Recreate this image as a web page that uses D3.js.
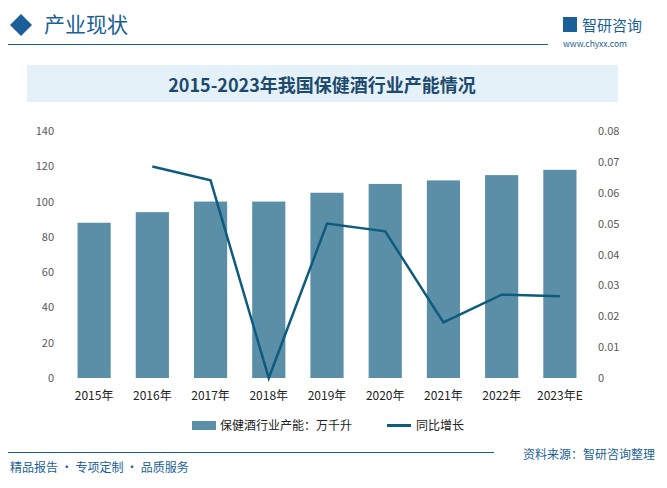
<!DOCTYPE html>
<html><head><meta charset="utf-8">
<script src="https://cdn.jsdelivr.net/npm/d3@7"></script>
<style>body{margin:0;background:#fff}text{font-family:"Noto Sans CJK SC","Noto Sans",sans-serif}</style>
</head><body><svg id="c" width="667" height="488"></svg>
<script>
const years = ['2015年','2016年','2017年','2018年','2019年','2020年','2021年','2022年','2023年E']
const capacity = [88, 94, 100, 100, 105, 110, 112, 115, 118]
const growth = [null, 0.0685, 0.064, 0, 0.05, 0.0475, 0.018, 0.027, 0.0265]
const leftTicks = [0,20,40,60,80,100,120,140]
const rightTicks = [0,0.01,0.02,0.03,0.04,0.05,0.06,0.07,0.08]

const svg = d3.select('#c')
// header
svg.append('path').attr('d','M10,25 L21,14 L32,25 L21,36 Z').attr('fill','#1a5f97')
svg.append('text').attr('x',44).attr('y',32).attr('font-size',21).attr('fill','#1a5f97').text('产业现状')
svg.append('line').attr('x1',8).attr('x2',548).attr('y1',44.5).attr('y2',44.5).attr('stroke','#1a5f97').attr('stroke-width',1)
svg.append('rect').attr('x',563).attr('y',17).attr('width',14).attr('height',15).attr('fill','#1a5f97')
svg.append('text').attr('x',582).attr('y',31).attr('font-size',15).attr('fill','#1a5f97').text('智研咨询')
svg.append('text').attr('x',563).attr('y',47).attr('font-size',8.5).attr('fill','#1a5f97').attr('font-family','DejaVu Sans Mono').text('www.chyxx.com')
// title box
svg.append('rect').attr('x',27).attr('y',65).attr('width',591).attr('height',37).attr('fill','#e5f1f9')
svg.append('text').attr('x',322).attr('y',92).attr('text-anchor','middle').attr('font-size',18).attr('font-weight','bold')
  .attr('fill','#1c4a6e').attr('font-family','"Noto Serif CJK SC","Noto Sans CJK SC",serif').text('2015-2023年我国保健酒行业产能情况')

const x = d3.scaleBand().domain(years).range([65,589]).paddingInner(0.43).paddingOuter(0.215)
const yL = d3.scaleLinear().domain([0,140]).range([378,131])
const yR = d3.scaleLinear().domain([0,0.08]).range([378,131])

svg.append('g').selectAll('text').data(leftTicks).join('text')
  .attr('x',54).attr('y',d=>yL(d)+4).attr('text-anchor','end').attr('font-size',11).attr('fill','#595959').text(d=>d)
svg.append('g').selectAll('text').data(rightTicks).join('text')
  .attr('x',598).attr('y',d=>yR(d)+4).attr('font-size',11).attr('fill','#595959').text(d=>d)

svg.append('g').selectAll('rect').data(capacity).join('rect')
  .attr('x',(d,i)=>x(years[i])).attr('width',x.bandwidth())
  .attr('y',d=>yL(d)).attr('height',d=>yL(0)-yL(d)).attr('fill','#5b8fa8')

const line = d3.line().defined(d=>d!=null).x((d,i)=>x(years[i])+x.bandwidth()/2).y(d=>yR(d))
svg.append('path').datum(growth).attr('d',line).attr('fill','none').attr('stroke','#0e5b7e').attr('stroke-width',2.5)

svg.append('g').selectAll('text').data(years).join('text')
  .attr('x',d=>x(d)+x.bandwidth()/2).attr('y',400).attr('text-anchor','middle').attr('font-size',12).attr('fill','#222').text(d=>d)

// legend
svg.append('rect').attr('x',192).attr('y',421).attr('width',24).attr('height',9).attr('fill','#5b8fa8')
svg.append('text').attr('x',220).attr('y',430).attr('font-size',12).attr('fill','#222').text('保健酒行业产能：万千升')
svg.append('line').attr('x1',387).attr('x2',411).attr('y1',425.5).attr('y2',425.5).attr('stroke','#0e5b7e').attr('stroke-width',3)
svg.append('text').attr('x',416).attr('y',430).attr('font-size',12).attr('fill','#222').text('同比增长')

// footer
svg.append('line').attr('x1',8).attr('x2',494).attr('y1',452.5).attr('y2',452.5).attr('stroke','#1a5f97')
svg.append('text').attr('x',655).attr('y',459).attr('text-anchor','end').attr('font-size',12).attr('fill','#1a5f97').text('资料来源：智研咨询整理')
svg.append('text').attr('x',10).attr('y',472).attr('font-size',12).attr('fill','#1a5f97').text('精品报告 · 专项定制 · 品质服务')
</script></body></html>
